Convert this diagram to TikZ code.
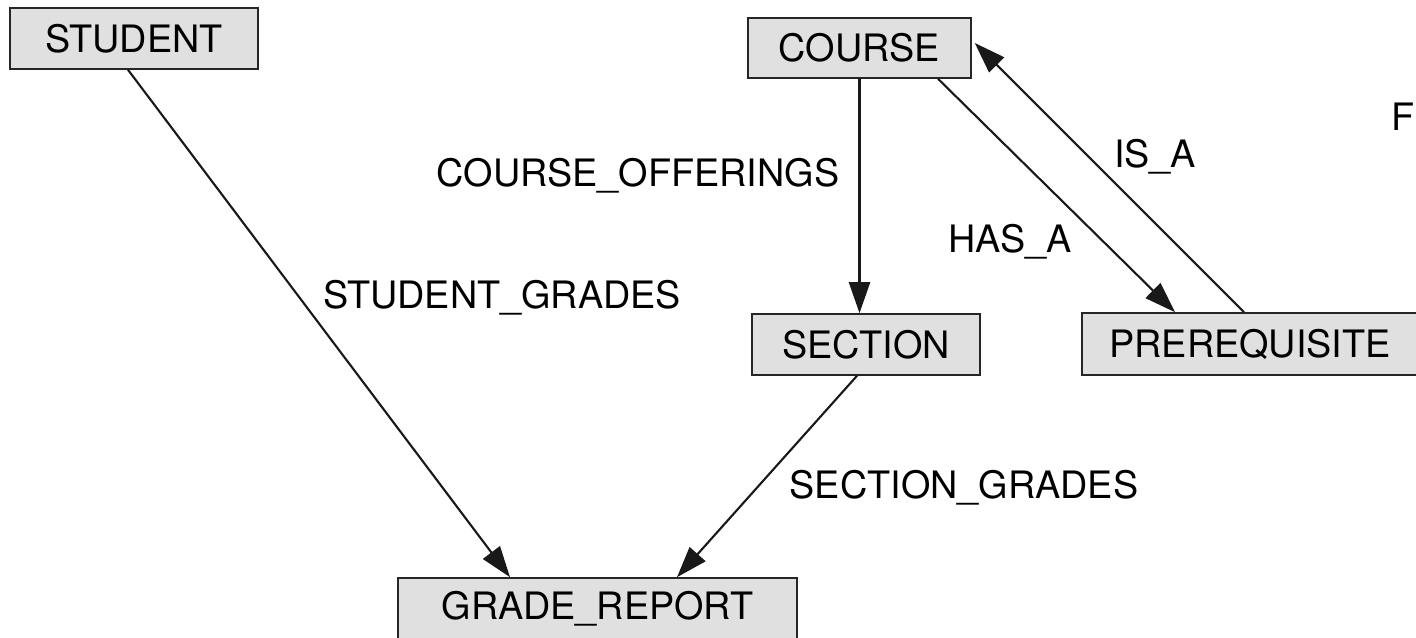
\documentclass[tikz,border=0pt]{standalone}
\usepackage{fontspec}
\setmainfont{TeX Gyre Heros}
\usetikzlibrary{arrows.meta}

\begin{document}
\begin{tikzpicture}[x=0.02cm, y=-0.02cm, >={Triangle[length=0.62cm, width=0.42cm]}]
				\tikzstyle{every node}=[inner sep=1pt, align=center, font=\fontsize{21.5}{25}\selectfont]
				\tikzstyle{entity}=[draw=black!85, line width=0.9pt, fill=black!12, minimum height=1.22cm]
				\tikzstyle{link}=[line width=1.2pt, black!90]
				\path[use as bounding box, clip] (0, 0) rectangle (1416, 638);
				\node[entity, minimum width=4.96cm] (STUDENT) at (134, 38.5) {STUDENT};
				\node[entity, minimum width=4.46cm, minimum height=1.2cm] (COURSE) at (859.5, 48) {COURSE};
				\node[entity, minimum width=4.56cm] (SECTION) at (866, 344.5) {SECTION};
				\node[entity, minimum width=6.72cm, minimum height=1.24cm] (PREREQ) at (1250, 344) {PREREQUISITE};
				\node[entity, minimum width=7.98cm] (GRADE) at (597.5, 608.5) {GRADE\_REPORT};
				\node (offerings) at (638, 176) {COURSE\_OFFERINGS};
				\node (stgrades) at (502, 298) {STUDENT\_GRADES};
				\node (secgrades) at (964, 488) {SECTION\_GRADES};
				\node (hasa) at (1010, 242) {HAS\_A};
				\node (isa) at (1155, 157) {IS\_A};
				\node[anchor=east, inner sep=0pt] (fpart) at (1415, 117) {F};
				\draw [link, ->] ([xshift=-0.12cm]STUDENT.south) -- ([xshift=-1.75cm]GRADE.north);
				\draw [link, ->] ([xshift=-0.18cm]SECTION.south) -- ([xshift=1.59cm]GRADE.north);
				\draw [link, ->] (COURSE.south) -- (COURSE.south |- SECTION.north);
				\draw [link, ->] ([xshift=1.57cm]COURSE.south) -- ([xshift=-1.5cm]PREREQ.north);
				\draw [link, ->] ([xshift=-0.12cm]PREREQ.north) -- ([yshift=0.1cm, xshift=0.06cm]COURSE.east);
		\end{tikzpicture}
\end{document}
